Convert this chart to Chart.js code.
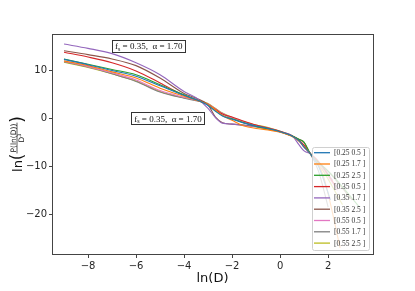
<!DOCTYPE html>
<html><head><meta charset="utf-8">
<script src="https://cdn.jsdelivr.net/npm/chart.js@4/dist/chart.umd.min.js"></script>
<style>html,body{margin:0;padding:0;background:#fff}#c{display:block}</style>
</head><body>
<canvas id="c" width="415" height="291"></canvas>
<script>
// ---- data ----
const lnD = [-9, -8, -7, -6, -5, -4, -3.5, -3, -2.7, -2.4, -2, -1.5, -1, -0.5, 0, 0.5, 0.8, 1.0, 1.25];
const labels = ['[0.25 0.5 ]','[0.25 1.7 ]','[0.25 2.5 ]','[0.35 0.5 ]','[0.35 1.7 ]','[0.35 2.5 ]','[0.55 0.5 ]','[0.55 1.7 ]','[0.55 2.5 ]'];
const y_025_05 = [12.3, 11.2, 10.0, 8.8, 6.8, 4.8, 3.9, 2.7, 1.5, 0.5, -0.2, -1.0, -1.6, -2.1, -2.8, -3.7, -4.7, -6.0, -7.3];
const y_025_17 = [12.0, 11.0, 9.7, 8.4, 6.3, 4.6, 3.8, 2.9, 1.8, 0.6, -0.4, -1.6, -2.1, -2.4, -2.9, -3.8, -4.8, -6.0, -7.3];
const y_025_25 = [12.4, 11.3, 10.2, 9.1, 7.0, 4.9, 3.9, 2.8, 1.6, 0.6, -0.1, -0.9, -1.7, -2.2, -2.8, -3.7, -4.4, -5.0, -7.3];
const y_035_05 = [13.8, 12.8, 11.6, 9.9, 7.4, 4.8, 3.9, 2.9, 1.9, 0.9, 0.3, -0.6, -1.4, -2.0, -2.7, -3.7, -4.6, -5.6, -7.3];
const y_035_17 = [15.5, 14.6, 13.5, 11.6, 9.1, 5.6, 4.3, 2.1, 0.2, -1.0, -1.2, -1.5, -1.8, -2.3, -2.8, -3.6, -5.6, -6.8, -7.4];
const y_035_25 = [14.1, 13.3, 12.4, 11.0, 8.4, 5.2, 4.2, 2.8, 0.3, -0.9, -1.2, -1.4, -1.7, -2.2, -2.8, -3.7, -4.4, -5.0, -7.3];
const y_055_05 = [11.9, 10.8, 9.5, 8.0, 5.8, 4.4, 3.8, 3.0, 2.0, 1.0, 0.1, -0.8, -1.5, -2.0, -2.7, -3.6, -4.7, -5.9, -7.3];
const y_055_17 = [11.8, 10.7, 9.3, 7.7, 5.5, 4.2, 3.7, 3.0, 2.0, 1.0, 0.0, -0.9, -1.6, -2.1, -2.8, -3.7, -4.8, -6.0, -7.3];
const y_055_25 = [11.7, 10.6, 9.3, 7.8, 5.6, 4.3, 3.8, 3.1, 2.1, 1.1, 0.2, -0.7, -1.4, -1.9, -2.7, -3.6, -4.6, -5.8, -7.3];
// steep tails beyond ln(D)=1.25 (x values, y values per series)
const tailX = [[1.6, 2.1],[1.8, 2.5],[2.2, 3.3],[1.6, 2.3],[1.6, 2.2],[2.0, 3.0],[1.7, 2.4],[1.6, 2.0],[1.8, 2.6]];
const tailY = [[-10, -17],[-12, -27],[-12, -18.5],[-9, -14],[-9, -13],[-11, -17],[-10, -15],[-11, -18.5],[-11, -18]];
const xTicks = [-8, -6, -4, -2, 0, 2];
const yTicks = [-20, -10, 0, 10];
const annotX = [-7.0, -6.2];
const annotY = [15.1, 0.0];
const annotText = ['0.35', '1.70'];

const colors = ['#1f77b4','#ff7f0e','#2ca02c','#d62728','#9467bd','#8c564b','#e377c2','#7f7f7f','#bcbd22'];
const series = [y_025_05, y_025_17, y_025_25, y_035_05, y_035_17, y_035_25, y_055_05, y_055_17, y_055_25];

const datasets = series.map((ys, i) => {
  const pts = lnD.map((x, j) => ({x, y: ys[j]}));
  tailX[i].forEach((x, j) => pts.push({x, y: tailY[i][j]}));
  return {label: labels[i], data: pts, borderColor: colors[i], backgroundColor: colors[i],
          borderWidth: 1.1, pointRadius: 0, fill: false, cubicInterpolationMode: 'monotone'};
});

const minus = v => (v < 0 ? '\u2212' + Math.abs(v) : String(v));

const decor = {
  id: 'decor',
  afterDraw(chart) {
    const ctx = chart.ctx, a = chart.chartArea, xs = chart.scales.x, ys = chart.scales.y;
    ctx.save();
    // frame
    ctx.strokeStyle = '#444'; ctx.lineWidth = 1;
    ctx.strokeRect(Math.round(a.left) + 0.5, Math.round(a.top) + 0.5, Math.round(a.right - a.left), Math.round(a.bottom - a.top));
    // annotations
    annotX.forEach((ax, i) => {
      const px = xs.getPixelForValue(ax), py = ys.getPixelForValue(annotY[i]);
      const f1 = '9px "Liberation Serif"', f2 = '6px "Liberation Serif"';
      const t1 = 'f', t2 = 's', t3 = ' = ' + annotText[0] + ',  \u03b1 = ' + annotText[1];
      ctx.font = f1; const w1 = ctx.measureText(t1).width, w3 = ctx.measureText(t3).width;
      ctx.font = f2; const w2 = ctx.measureText(t2).width;
      const pad = 3, w = w1 + w2 + w3 + pad * 2, h = 12;
      ctx.fillStyle = '#fff'; ctx.fillRect(px, py - h / 2, w, h);
      ctx.strokeStyle = '#333'; ctx.lineWidth = 1;
      ctx.strokeRect(Math.round(px) + 0.5, Math.round(py - h / 2) + 0.5, Math.round(w), h);
      ctx.fillStyle = '#111'; ctx.textBaseline = 'alphabetic'; ctx.textAlign = 'left';
      const base = py + 3.5;
      ctx.font = f1; ctx.fillText(t1, px + pad, base);
      ctx.font = f2; ctx.fillText(t2, px + pad + w1, base + 1.5);
      ctx.font = f1; ctx.fillText(t3, px + pad + w1 + w2, base);
    });
    // legend
    const lx = 312, ly = 147, lw = 57, lh = 103;
    ctx.fillStyle = 'rgba(255,255,255,0.8)';
    ctx.strokeStyle = '#d0d0d0';
    ctx.beginPath();
    if (ctx.roundRect) ctx.roundRect(lx + 0.5, ly + 0.5, lw, lh, 2); else ctx.rect(lx + 0.5, ly + 0.5, lw, lh);
    ctx.fill(); ctx.stroke();
    chart.data.datasets.forEach((ds, i) => {
      const yy = ly + 5.7 + i * 11.3;
      ctx.strokeStyle = ds.borderColor; ctx.lineWidth = 1.3;
      ctx.beginPath(); ctx.moveTo(314, yy); ctx.lineTo(330, yy); ctx.stroke();
      ctx.fillStyle = '#333'; ctx.font = '7.5px "Liberation Serif"';
      ctx.textBaseline = 'middle'; ctx.textAlign = 'left';
      ctx.fillText(ds.label, 334, yy + 0.5);
    });
    // x title
    ctx.fillStyle = '#111'; ctx.textAlign = 'center'; ctx.textBaseline = 'middle';
    ctx.font = '13px "DejaVu Sans"';
    ctx.fillText('ln(D)', (a.left + a.right) / 2, 279);
    // y title: ln( P(ln(D)) / D^3 )
    ctx.translate(15, (a.top + a.bottom) / 2);
    ctx.rotate(-Math.PI / 2);
    const fBig = '13px "DejaVu Sans"', fPar = '17px "DejaVu Sans"', fSm = '7.5px "DejaVu Sans"', fSup = '5px "DejaVu Sans"';
    ctx.font = fBig; const wln = ctx.measureText('ln').width;
    ctx.font = fPar; const wp = ctx.measureText('(').width;
    ctx.font = fSm; const wnum = ctx.measureText('P(ln(D))').width, wD = ctx.measureText('D').width;
    ctx.font = fSup; const w3 = ctx.measureText('3').width;
    const total = wln + wp * 2 + wnum + 2;
    let u = -total / 2;
    const bar = 2;
    ctx.textAlign = 'left'; ctx.textBaseline = 'alphabetic';
    ctx.font = fBig; ctx.fillText('ln', u, bar + 5); u += wln;
    ctx.font = fPar; ctx.fillText('(', u, bar + 6); u += wp;
    ctx.font = fSm; ctx.fillText('P(ln(D))', u + 1, bar - 1.5);
    ctx.strokeStyle = '#111'; ctx.lineWidth = 0.7;
    ctx.beginPath(); ctx.moveTo(u, bar); ctx.lineTo(u + wnum + 2, bar); ctx.stroke();
    const dx = u + 1 + (wnum - wD - w3) / 2;
    ctx.fillText('D', dx, bar + 7);
    ctx.font = fSup; ctx.fillText('3', dx + wD, bar + 4);
    u += wnum + 2;
    ctx.font = fPar; ctx.fillText(')', u, bar + 6);
    ctx.restore();
  }
};

new Chart(document.getElementById('c'), {
  type: 'line',
  data: {datasets},
  options: {
    responsive: false, animation: false, devicePixelRatio: 1,
    layout: {padding: {left: 0, right: 42, top: 34, bottom: 0}},
    plugins: {legend: {display: false}, tooltip: {enabled: false}},
    scales: {
      x: {
        type: 'linear', min: -9.5, max: 3.87,
        afterBuildTicks: s => { s.ticks = xTicks.map(v => ({value: v})); },
        afterFit: s => { s.height = 37; },
        grid: {display: true, drawOnChartArea: false, drawTicks: true, tickLength: 4, color: '#444'},
        border: {display: false},
        ticks: {padding: 2, color: '#262626', font: {family: 'DejaVu Sans', size: 10}, callback: v => minus(v), maxRotation: 0}
      },
      y: {
        type: 'linear', min: -28.3, max: 17.6,
        afterBuildTicks: s => { s.ticks = yTicks.map(v => ({value: v})); },
        afterFit: s => { s.width = 52; },
        grid: {display: true, drawOnChartArea: false, drawTicks: true, tickLength: 3, color: '#444'},
        border: {display: false},
        ticks: {padding: 2, color: '#262626', font: {family: 'DejaVu Sans', size: 10}, callback: v => minus(v)}
      }
    }
  },
  plugins: [decor]
});
</script>
</body></html>
